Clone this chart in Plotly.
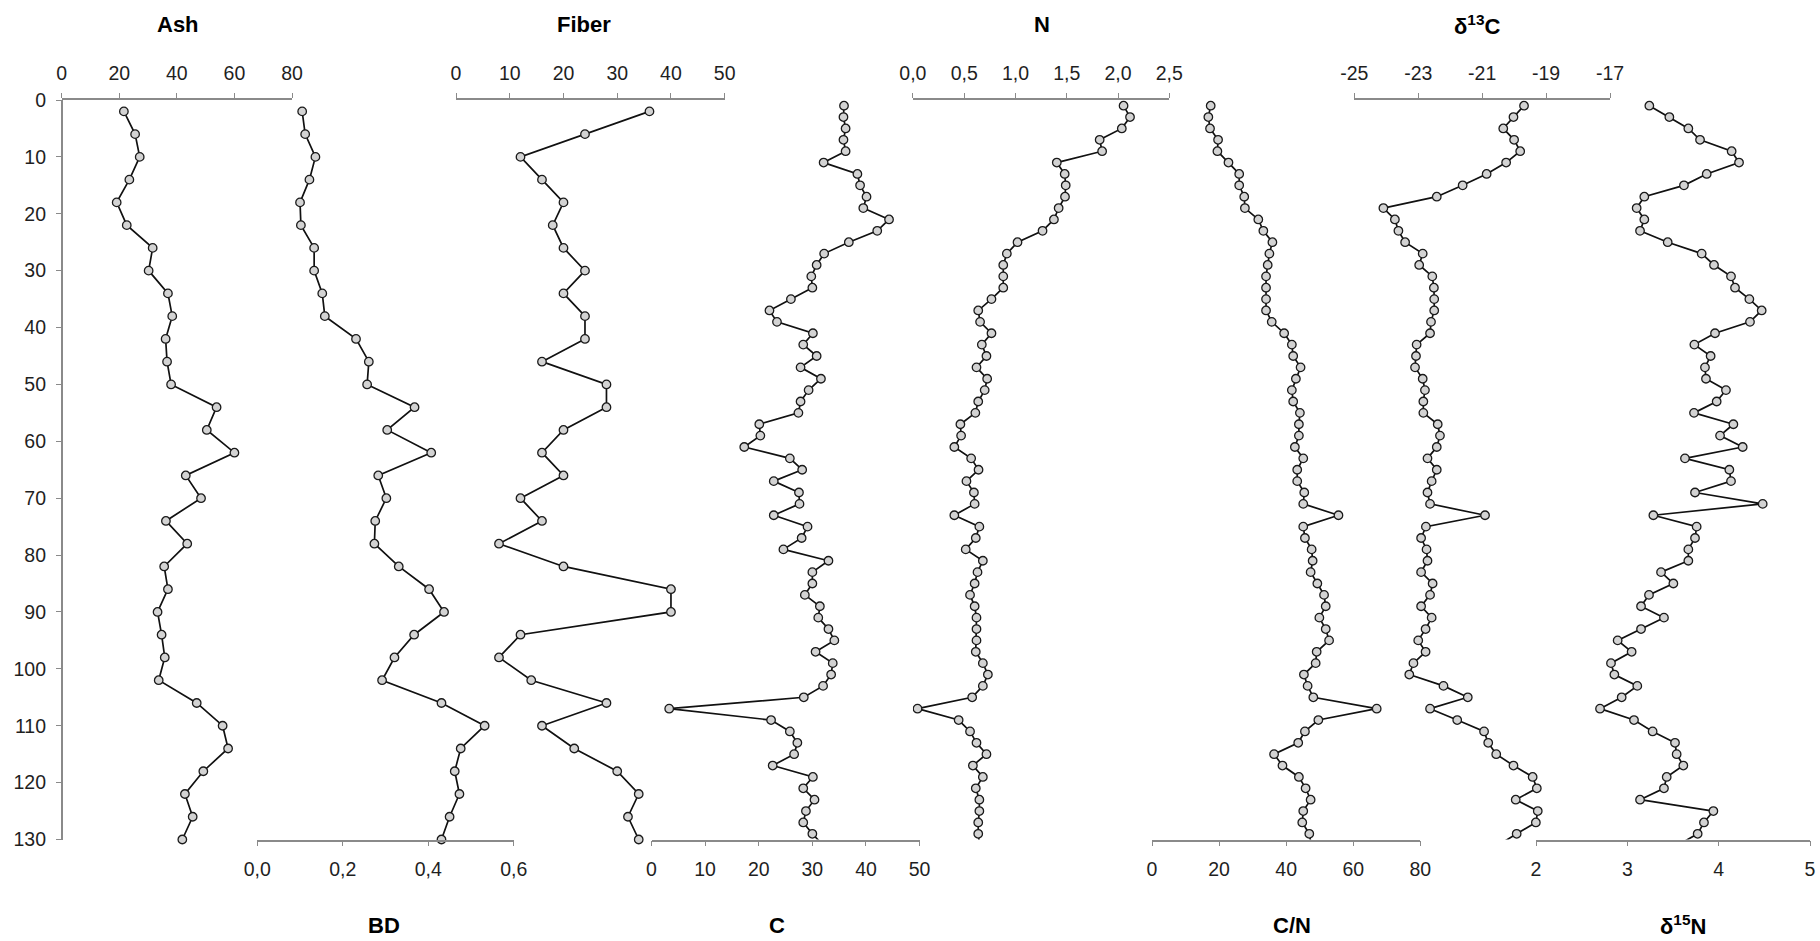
import plotly.graph_objects as go

W, H = 1820, 941

# ---------------- data ----------------
depth4 = [2, 6, 10, 14, 18, 22, 26, 30, 34, 38, 42, 46, 50, 54, 58, 62, 66,
          70, 74, 78, 82, 86, 90, 94, 98, 102, 106, 110, 114, 118, 122, 126, 130]

ash = [21.6, 25.5, 27.1, 23.5, 19.1, 22.6, 31.6, 30.2, 36.9, 38.4, 36.1, 36.6,
       38.0, 53.8, 50.4, 60.0, 43.1, 48.4, 36.2, 43.6, 35.6, 36.9, 33.3, 34.7,
       35.8, 33.7, 46.9, 55.9, 57.8, 49.2, 42.8, 45.5, 41.9]

bd = [0.105, 0.112, 0.136, 0.122, 0.100, 0.102, 0.133, 0.133, 0.152, 0.158,
      0.231, 0.261, 0.257, 0.368, 0.304, 0.407, 0.283, 0.302, 0.276, 0.274,
      0.331, 0.402, 0.437, 0.367, 0.321, 0.292, 0.431, 0.532, 0.476, 0.462,
      0.473, 0.450, 0.431]

fiber = [36, 24, 12, 16, 20, 18, 20, 24, 20, 24, 24, 16, 28, 28, 20, 16, 20,
         12, 16, 8, 20, 40, 40, 12, 8, 14, 28, 16, 22, 30, 34, 32, 34]

depth2 = [1, 3, 5, 7, 9, 11, 13, 15, 17, 19, 21, 23, 25, 27, 29, 31, 33, 35,
          37, 39, 41, 43, 45, 47, 49, 51, 53, 55, 57, 59, 61, 63, 65, 67, 69,
          71, 73, 75, 77, 79, 81, 83, 85, 87, 89, 91, 93, 95, 97, 99, 101, 103,
          105, 107, 109, 111, 113, 115, 117, 119, 121, 123, 125, 127, 129, 131]

carbon = [35.9, 35.8, 36.2, 35.8, 36.2, 32.1, 38.4, 38.9, 40.1, 39.5, 44.3,
          42.1, 36.8, 32.2, 30.8, 29.8, 30.0, 26.0, 22.0, 23.4, 30.1, 28.3,
          30.8, 27.8, 31.6, 29.3, 27.8, 27.4, 20.1, 20.3, 17.3, 25.8, 28.1,
          22.8, 27.5, 27.6, 22.8, 29.1, 28.0, 24.6, 33.0, 30.0, 30.0, 28.6,
          31.4, 31.1, 33.0, 34.1, 30.6, 33.8, 33.5, 32.0, 28.4, 3.3, 22.3,
          25.8, 27.2, 26.6, 22.6, 30.1, 28.3, 30.4, 28.8, 28.3, 30.0, 32.0]

nitrogen = [2.054, 2.117, 2.037, 1.821, 1.845, 1.403, 1.480, 1.490, 1.483,
            1.421, 1.375, 1.264, 1.020, 0.916, 0.881, 0.881, 0.881, 0.766,
            0.637, 0.655, 0.766, 0.672, 0.717, 0.620, 0.724, 0.700, 0.637,
            0.609, 0.463, 0.470, 0.404, 0.568, 0.640, 0.522, 0.595, 0.602,
            0.404, 0.648, 0.613, 0.515, 0.682, 0.630, 0.602, 0.557, 0.602,
            0.620, 0.620, 0.620, 0.613, 0.682, 0.731, 0.682, 0.578, 0.045,
            0.446, 0.557, 0.620, 0.717, 0.585, 0.682, 0.613, 0.648, 0.648,
            0.637, 0.637, 0.650]

cn_ratio = [17.5, 16.8, 17.3, 19.7, 19.5, 22.8, 26.0, 26.0, 27.5, 27.7, 31.7,
            33.2, 35.9, 35.0, 34.5, 34.0, 34.0, 34.0, 34.0, 35.7, 39.4, 41.7,
            42.1, 44.3, 42.9, 41.7, 42.1, 44.1, 43.8, 43.8, 42.6, 45.1, 43.3,
            43.3, 45.4, 45.1, 55.6, 45.1, 45.6, 47.6, 47.9, 47.3, 49.3, 51.3,
            51.8, 49.9, 51.8, 52.8, 49.1, 48.8, 45.3, 46.4, 48.1, 67.0, 49.6,
            45.6, 43.6, 36.4, 38.9, 43.8, 45.8, 47.3, 45.1, 44.8, 46.9, 47.5]

d13c = [-19.69, -20.02, -20.34, -20.00, -19.81, -20.25, -20.86, -21.61, -22.42,
        -24.09, -23.73, -23.62, -23.41, -22.86, -22.97, -22.56, -22.51, -22.50,
        -22.50, -22.60, -22.63, -23.05, -23.07, -23.10, -22.86, -22.79, -22.84,
        -22.84, -22.39, -22.32, -22.42, -22.71, -22.42, -22.58, -22.71, -22.63,
        -20.91, -22.76, -22.91, -22.74, -22.71, -22.91, -22.55, -22.63, -22.91,
        -22.58, -22.77, -23.00, -22.77, -23.15, -23.28, -22.21, -21.45, -22.63,
        -21.78, -20.94, -20.81, -20.56, -20.02, -19.42, -19.29, -19.95, -19.26,
        -19.32, -19.92, -20.50]

d15n = [3.241, 3.460, 3.668, 3.796, 4.142, 4.223, 3.869, 3.620, 3.186, 3.102,
        3.186, 3.139, 3.442, 3.814, 3.949, 4.135, 4.179, 4.336, 4.471, 4.343,
        3.960, 3.734, 3.912, 3.850, 3.861, 4.080, 3.978, 3.730, 4.161, 4.015,
        4.263, 3.631, 4.117, 4.135, 3.741, 4.482, 3.285, 3.759, 3.741, 3.668,
        3.668, 3.369, 3.504, 3.237, 3.150, 3.401, 3.150, 2.894, 3.047, 2.821,
        2.858, 3.109, 2.938, 2.701, 3.073, 3.277, 3.522, 3.540, 3.613, 3.431,
        3.401, 3.139, 3.942, 3.839, 3.770, 3.550]

# tick labels
depth_ticks = [0, 10, 20, 30, 40, 50, 60, 70, 80, 90, 100, 110, 120, 130]
ash_ticks = [0, 20, 40, 60, 80]
bd_ticks = [0.0, 0.2, 0.4, 0.6]
bd_ticktext = ["0,0", "0,2", "0,4", "0,6"]
fiber_ticks = [0, 10, 20, 30, 40, 50]
c_ticks = [0, 10, 20, 30, 40, 50]
n_ticks = [0.0, 0.5, 1.0, 1.5, 2.0, 2.5]
n_ticktext = ["0,0", "0,5", "1,0", "1,5", "2,0", "2,5"]
cn_ticks = [0, 20, 40, 60, 80]
d13c_ticks = [-25, -23, -21, -19, -17]
d13c_ticktext = ["-25", "-23", "-21", "-19", "-17"]
d15n_ticks = [2, 3, 4, 5]

# ---------------- panels ----------------
# (name, x, y, side, px_start, px_end, range, tickvals, ticktext, title, title_px)
panels = [
    ("Ash", ash, depth4, "top", 61.7, 292.0, [0, 80], ash_ticks, None, "<b>Ash</b>", 178),
    ("BD", bd, depth4, "bottom", 257.3, 513.7, [0, 0.6], bd_ticks, bd_ticktext, "<b>BD</b>", 384),
    ("Fiber", fiber, depth4, "top", 456.0, 724.7, [0, 50], fiber_ticks, None, "<b>Fiber</b>", 584),
    ("C", carbon, depth2, "bottom", 651.5, 919.6, [0, 50], c_ticks, None, "<b>C</b>", 777),
    ("N", nitrogen, depth2, "top", 912.9, 1169.3, [0, 2.5], n_ticks, n_ticktext, "<b>N</b>", 1042),
    ("C/N", cn_ratio, depth2, "bottom", 1152.0, 1420.3, [0, 80], cn_ticks, None, "<b>C/N</b>", 1292),
    ("d13C", d13c, depth2, "top", 1354.3, 1610.0, [-25, -17], d13c_ticks, d13c_ticktext,
     "<b>δ<sup>13</sup>C</b>", 1477),
    ("d15N", d15n, depth2, "bottom", 1536.0, 1810.0, [2, 5], d15n_ticks, None,
     "<b>δ<sup>15</sup>N</b>", 1683),
]

Y_TOP, Y_BOT = 100.0, 839.5
ydom = [1 - Y_BOT / H, 1 - Y_TOP / H]

FONT = "Liberation Sans, Arial, sans-serif"
AXIS_COL = "#8a8a8a"
TXT_COL = "#1f1f1f"
TICK_SIZE = 19.5

fig = go.Figure()
layout = dict(
    width=W, height=H,
    margin=dict(l=0, r=0, t=0, b=0),
    paper_bgcolor="white", plot_bgcolor="rgba(0,0,0,0)",
    showlegend=False,
    font=dict(family=FONT, color=TXT_COL, size=TICK_SIZE),
)

annotations = []
for i, (name, xv, yv, side, p0, p1, rng, tv, tt, title, tpx) in enumerate(panels):
    axn = "" if i == 0 else str(i + 1)
    fig.add_trace(go.Scatter(
        x=xv, y=yv, mode="lines+markers",
        xaxis="x" + axn, yaxis="y",
        line=dict(color="#111111", width=1.7),
        marker=dict(size=8.5, color="#d3d3d3", line=dict(color="#1a1a1a", width=1.3)),
        cliponaxis=(yv is depth2),
        name=name, hoverinfo="x+y",
    ))
    ax = dict(
        domain=[p0 / W, p1 / W], range=rng, anchor="y", side=side,
        showgrid=False, zeroline=False, showline=True,
        linecolor=AXIS_COL, linewidth=1.5,
        ticks="outside", ticklen=5, tickwidth=1.3, tickcolor=AXIS_COL,
        tickvals=tv, ticktext=tt if tt is not None else [str(v) for v in tv],
        tickfont=dict(family=FONT, size=TICK_SIZE, color=TXT_COL),
        ticklabelstandoff=5 if side == "top" else 6,
        automargin=False, fixedrange=True,
    )
    layout["xaxis" + axn] = ax
    ty = 25 if side == "top" else 925
    annotations.append(dict(
        text=title, xref="paper", yref="paper", x=tpx / W, y=1 - ty / H,
        xanchor="center", yanchor="middle", showarrow=False,
        font=dict(family=FONT, size=22, color="#000000"),
    ))

layout["yaxis"] = dict(
    domain=ydom, range=[130, 0], anchor="free", position=61.7 / W,
    showgrid=False, zeroline=False, showline=True,
    linecolor=AXIS_COL, linewidth=1.5,
    ticks="outside", ticklen=5, tickwidth=1.3, tickcolor=AXIS_COL,
    tickvals=depth_ticks, ticktext=[str(v) for v in depth_ticks],
    tickfont=dict(family=FONT, size=TICK_SIZE, color=TXT_COL),
    ticklabelstandoff=6,
    automargin=False, fixedrange=True,
)
layout["annotations"] = annotations
fig.update_layout(**layout)

fig.write_html("out.html")
